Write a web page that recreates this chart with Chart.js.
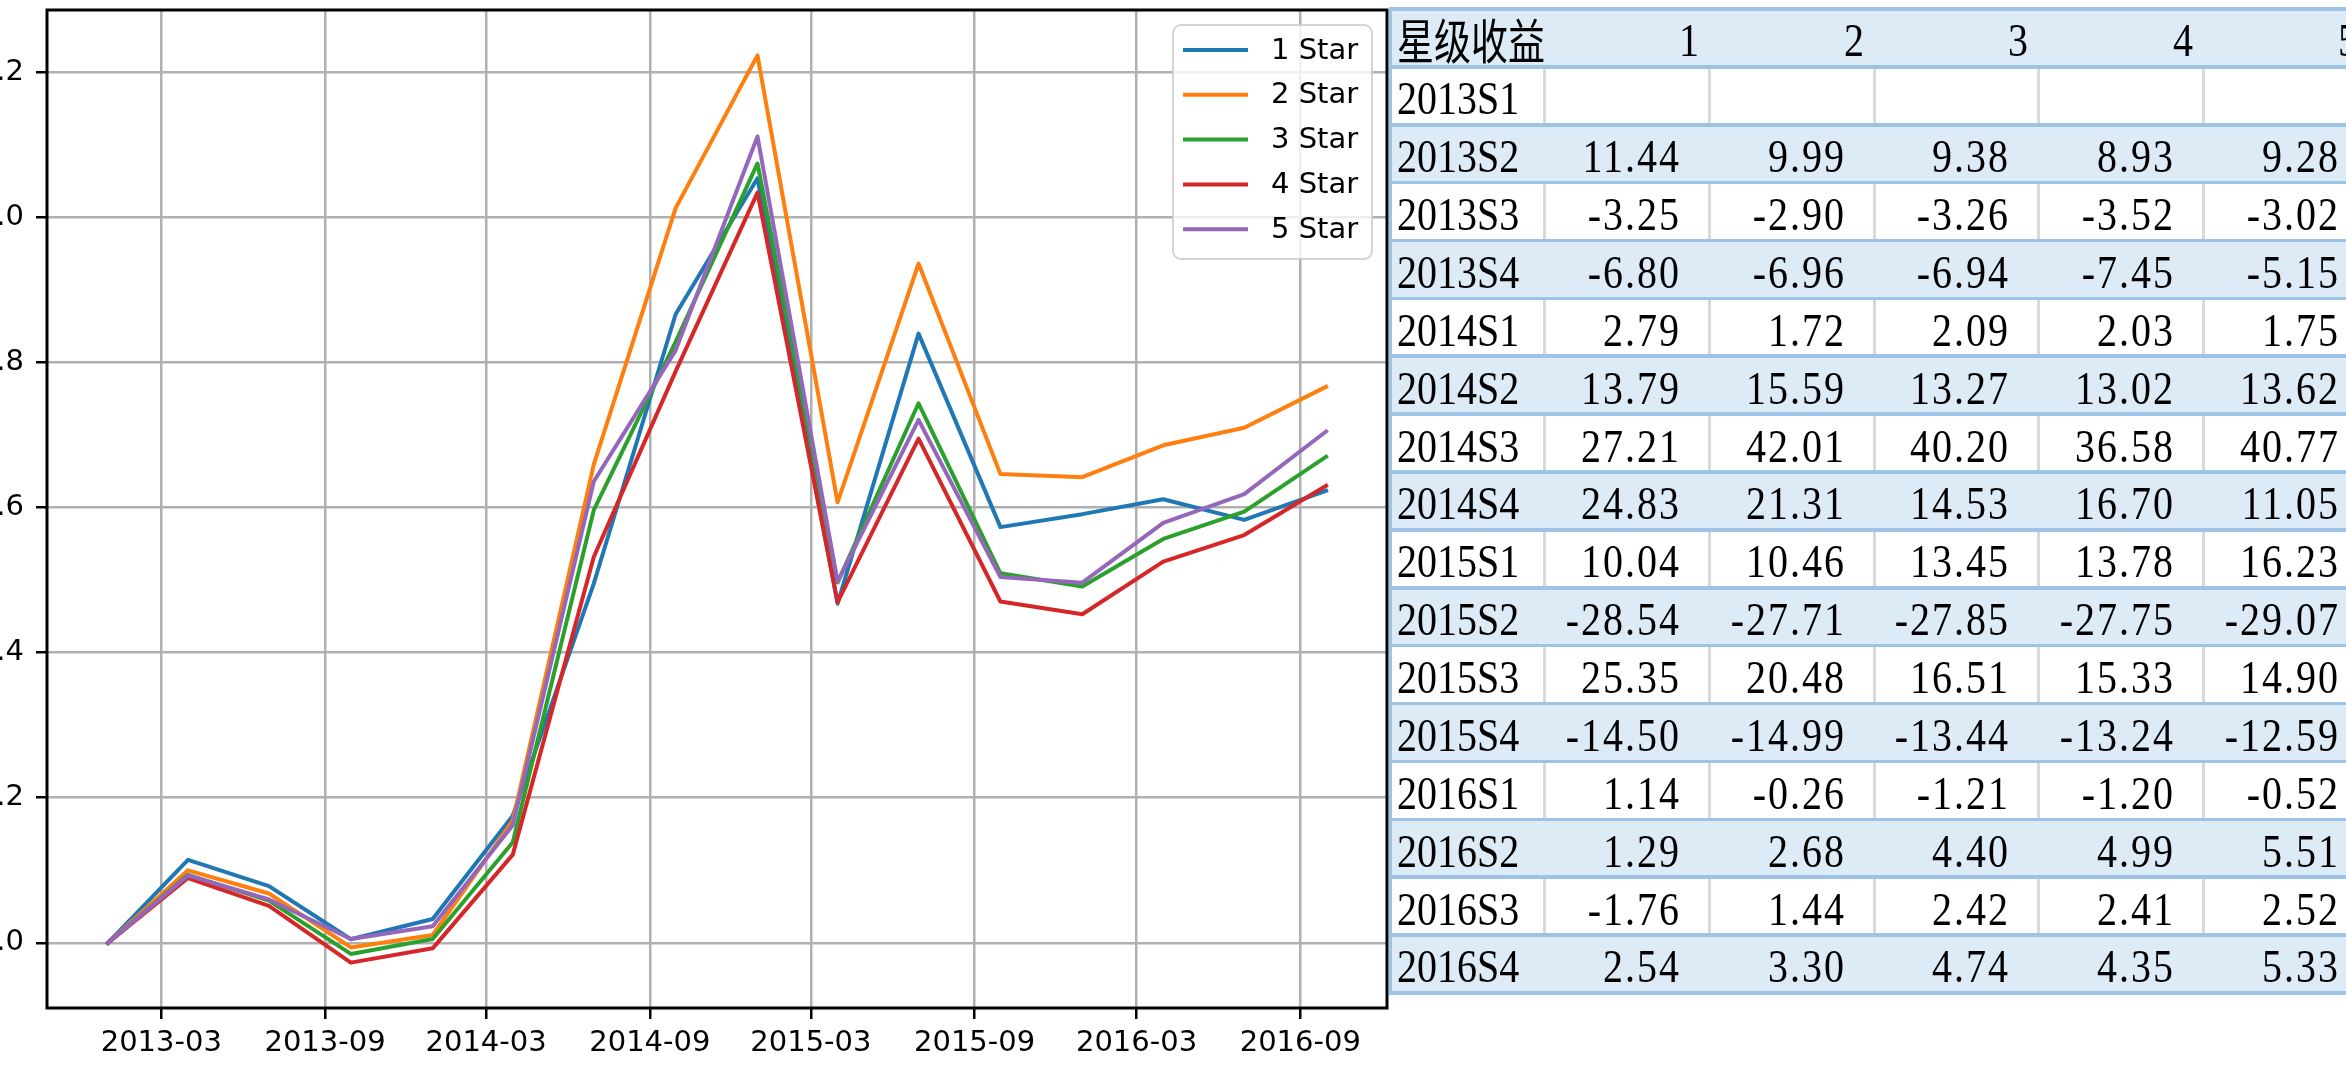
<!DOCTYPE html>
<html><head><meta charset="utf-8">
<script src="https://cdn.jsdelivr.net/npm/chart.js@4.4.1/dist/chart.umd.min.js"></script>
<style>
html,body{margin:0;padding:0;background:#fff;overflow:hidden;width:2346px;height:1077px;position:relative}
#wrap{position:absolute;left:-60px;top:0;width:1449px;height:1077px}
#tbl{position:absolute;left:0;top:0;width:2346px;height:1077px;overflow:hidden}
.num{position:absolute;font-family:'Liberation Serif',serif;font-size:40px;line-height:40px;white-space:pre;color:#000;transform:scaleY(1.14);transform-origin:0 33.5px}
.val{letter-spacing:2px}
.cjk{position:absolute;font-family:'Noto Sans CJK SC',sans-serif;font-size:37px;line-height:37px;white-space:pre;color:#000;transform:scaleY(1.29);transform-origin:0 34.6px}
.r{position:absolute}
</style></head>
<body>
<div id="wrap"><canvas id="c"></canvas></div>
<div id="tbl"></div>
<script>
// ---- data ----
const quarters = ['2013S1','2013S2','2013S3','2013S4','2014S1','2014S2','2014S3','2014S4',
                  '2015S1','2015S2','2015S3','2015S4','2016S1','2016S2','2016S3','2016S4'];
const quarterEnds = ['2012-12-31','2013-03-31','2013-06-30','2013-09-30','2013-12-31','2014-03-31',
                     '2014-06-30','2014-09-30','2014-12-31','2015-03-31','2015-06-30','2015-09-30',
                     '2015-12-31','2016-03-31','2016-06-30','2016-09-30'];
// cumulative net value lines
const star1 = [1.0000,1.1144,1.0782,1.0049,1.0329,1.1753,1.4952,1.8664,2.0538,1.4676,1.8397,1.5730,1.5909,1.6114,1.5830,1.6232];
const star2 = [1.0000,1.0999,1.0680,0.9937,1.0108,1.1683,1.6592,2.0127,2.2233,1.6072,1.9363,1.6461,1.6418,1.6858,1.7101,1.7665];
const star3 = [1.0000,1.0938,1.0581,0.9847,1.0053,1.1387,1.5964,1.8284,2.0743,1.4966,1.7437,1.5094,1.4911,1.5567,1.5944,1.6700];
const star4 = [1.0000,1.0893,1.0510,0.9727,0.9924,1.1216,1.5319,1.7877,2.0341,1.4696,1.6949,1.4705,1.4529,1.5254,1.5621,1.6301];
const star5 = [1.0000,1.0928,1.0598,1.0052,1.0228,1.1621,1.6359,1.8167,2.1115,1.4977,1.7209,1.5042,1.4964,1.5789,1.6186,1.7049];
// quarterly returns (table)
const ret1 = [null,11.44,-3.25,-6.80,2.79,13.79,27.21,24.83,10.04,-28.54,25.35,-14.50,1.14,1.29,-1.76,2.54];
const ret2 = [null,9.99,-2.90,-6.96,1.72,15.59,42.01,21.31,10.46,-27.71,20.48,-14.99,-0.26,2.68,1.44,3.30];
const ret3 = [null,9.38,-3.26,-6.94,2.09,13.27,40.20,14.53,13.45,-27.85,16.51,-13.44,-1.21,4.40,2.42,4.74];
const ret4 = [null,8.93,-3.52,-7.45,2.03,13.02,36.58,16.70,13.78,-27.75,15.33,-13.24,-1.20,4.99,2.41,4.35];
const ret5 = [null,9.28,-3.02,-5.15,1.75,13.62,40.77,11.05,16.23,-29.07,14.90,-12.59,-0.52,5.51,2.52,5.33];
const seriesNames = ['1 Star','2 Star','3 Star','4 Star','5 Star'];
const seriesColors = ['#1f77b4','#ff7f0e','#2ca02c','#d62728','#9467bd'];
const yTickValues = [1.0,1.2,1.4,1.6,1.8,2.0,2.2];
const xTickLabels = ['2013-03','2013-09','2014-03','2014-09','2015-03','2015-09','2016-03','2016-09'];
const tableHeader = ['星级收益','1','2','3','4','5'];

// ---- helpers ----
const toDay = s => { const p = s.split('-').map(Number); return Date.UTC(p[0], p[1]-1, p[2]||1) / 864e5; };
const xs = quarterEnds.map(toDay);
const xTickDays = xTickLabels.map(l => toDay(l + '-01'));
const lines = [star1, star2, star3, star4, star5];
const rets = [ret1, ret2, ret3, ret4, ret5];
const allY = [].concat(...lines);
const yLo = Math.min(...allY), yHi = Math.max(...allY);
const yMin = yLo - 0.05*(yHi-yLo), yMax = yHi + 0.05*(yHi-yLo);
const xMin = xs[0] - 0.05*(xs[xs.length-1]-xs[0]), xMax = xs[xs.length-1] + 0.05*(xs[xs.length-1]-xs[0]);

const FONT = 'DejaVu Sans';
const framePlugin = {
  id: 'frame',
  afterDatasetsDraw(chart) {
    const {ctx, chartArea: a} = chart;
    ctx.save();
    ctx.strokeStyle = '#000'; ctx.lineWidth = 3;
    ctx.strokeRect(a.left, a.top, a.right - a.left, a.bottom - a.top);
    ctx.restore();
  }
};
const legendPlugin = {
  id: 'mplLegend',
  afterDraw(chart) {
    const {ctx, chartArea: a} = chart;
    const bw = 199, bh = 234;
    const bx = a.right - 15 - bw, by = a.top + 15;
    ctx.save();
    ctx.beginPath();
    if (ctx.roundRect) ctx.roundRect(bx, by, bw, bh, 8); else ctx.rect(bx, by, bw, bh);
    ctx.fillStyle = 'rgba(255,255,255,0.8)';
    ctx.fill();
    ctx.lineWidth = 2; ctx.strokeStyle = 'rgba(204,204,204,0.85)';
    ctx.stroke();
    ctx.font = '29px "' + FONT + '"'; ctx.textBaseline = 'middle'; ctx.textAlign = 'left';
    chart.data.datasets.forEach((ds, i) => {
      const y = by + 25 + i * 44.8;
      ctx.beginPath(); ctx.moveTo(bx + 10, y); ctx.lineTo(bx + 75, y);
      ctx.strokeStyle = ds.borderColor; ctx.lineWidth = 4; ctx.lineCap = 'butt'; ctx.stroke();
      ctx.fillStyle = '#000';
      ctx.fillText(ds.label, bx + 98, y + 1);
    });
    ctx.restore();
  }
};

const gridOpts = { color: '#b0b0b0', lineWidth: 2.5, tickLength: 11, tickColor: '#000', tickWidth: 2.5 };

new Chart(document.getElementById('c'), {
  type: 'line',
  data: {
    datasets: lines.map((arr, i) => ({
      label: seriesNames[i],
      data: arr.map((v, j) => ({x: xs[j], y: v})),
      borderColor: seriesColors[i],
      backgroundColor: seriesColors[i],
      borderWidth: 4,
      pointRadius: 0,
      tension: 0,
      fill: false,
      borderJoinStyle: 'round',
      borderCapStyle: 'square',
      order: lines.length - 1 - i
    }))
  },
  options: {
    responsive: true,
    maintainAspectRatio: false,
    devicePixelRatio: 1,
    animation: false,
    layout: { padding: { left: 0, top: 10, right: 2, bottom: 0 } },
    plugins: { legend: { display: false }, tooltip: { enabled: false } },
    scales: {
      x: {
        type: 'linear', min: xMin, max: xMax,
        afterBuildTicks: s => { s.ticks = xTickDays.map(v => ({value: v})); },
        afterFit: s => { s.height = 69; s.paddingLeft = 0; s.paddingRight = 0; },
        ticks: {
          autoSkip: false, maxRotation: 0, minRotation: 0, padding: 7,
          color: '#000', font: { family: FONT, size: 29 },
          callback: v => xTickLabels[xTickDays.indexOf(v)]
        },
        grid: gridOpts,
        border: { display: false }
      },
      y: {
        type: 'linear', min: yMin, max: yMax,
        afterBuildTicks: s => { s.ticks = yTickValues.map(v => ({value: v})); },
        afterFit: s => { s.width = 107; s.paddingTop = 0; s.paddingBottom = 0; },
        ticks: {
          padding: 12, color: '#000', font: { family: FONT, size: 29 },
          callback: v => Number(v).toFixed(1)
        },
        grid: gridOpts,
        border: { display: false }
      }
    }
  },
  plugins: [framePlugin, legendPlugin]
});

// ---- table ----
const tbl = document.getElementById('tbl');
const T_TOP = 9, ROW_H = 57.88, PAGE_W = 2346;
const colEdges = [1389, 1544, 1709, 1874, 2038, 2203, 2368];
const nRows = quarters.length + 1;
function rect(x, y, w, h, c) {
  const d = document.createElement('div'); d.className = 'r';
  d.style.left = x + 'px'; d.style.top = y + 'px'; d.style.width = w + 'px'; d.style.height = h + 'px';
  d.style.background = c; tbl.appendChild(d);
}
function text(str, x, base, align, cls, asc) {
  const s = document.createElement('span'); s.className = cls; s.textContent = str;
  s.style.top = (base - asc) + 'px';
  if (align === 'right') s.style.right = (PAGE_W - x) + 'px'; else s.style.left = x + 'px';
  tbl.appendChild(s);
}
for (let r = 0; r < nRows; r++) {
  const top = T_TOP + r * ROW_H;
  if (r % 2 === 0) rect(colEdges[0], top, colEdges[6] - colEdges[0], ROW_H, '#ddebf7');
  else for (let c = 1; c < 6; c++) rect(colEdges[c] - 1.5, top, 3, ROW_H, '#d9d9d9');
}
for (let r = 0; r <= nRows; r++) rect(colEdges[0], T_TOP + r * ROW_H - 1.8, colEdges[6] - colEdges[0], 3.6, '#9dc3e6');
rect(colEdges[0], T_TOP, 2.5, nRows * ROW_H, '#9dc3e6');

// header
const hb = T_TOP + ROW_H;
text(tableHeader[0], 1397, hb - 7, 'left', 'cjk', 34.6);
for (let c = 1; c < 6; c++) text(tableHeader[c], colEdges[c + 1] - 10, hb - 10, 'right', 'num', 33.5);
// rows
quarters.forEach((q, i) => {
  const base = T_TOP + (i + 2) * ROW_H - 10;
  text(q, 1397, base, 'left', 'num', 33.5);
  rets.forEach((arr, c) => {
    const v = arr[i];
    if (v !== null) text(v.toFixed(2), colEdges[c + 2] - 28, base, 'right', 'num val', 33.5);
  });
});
</script>
</body></html>
